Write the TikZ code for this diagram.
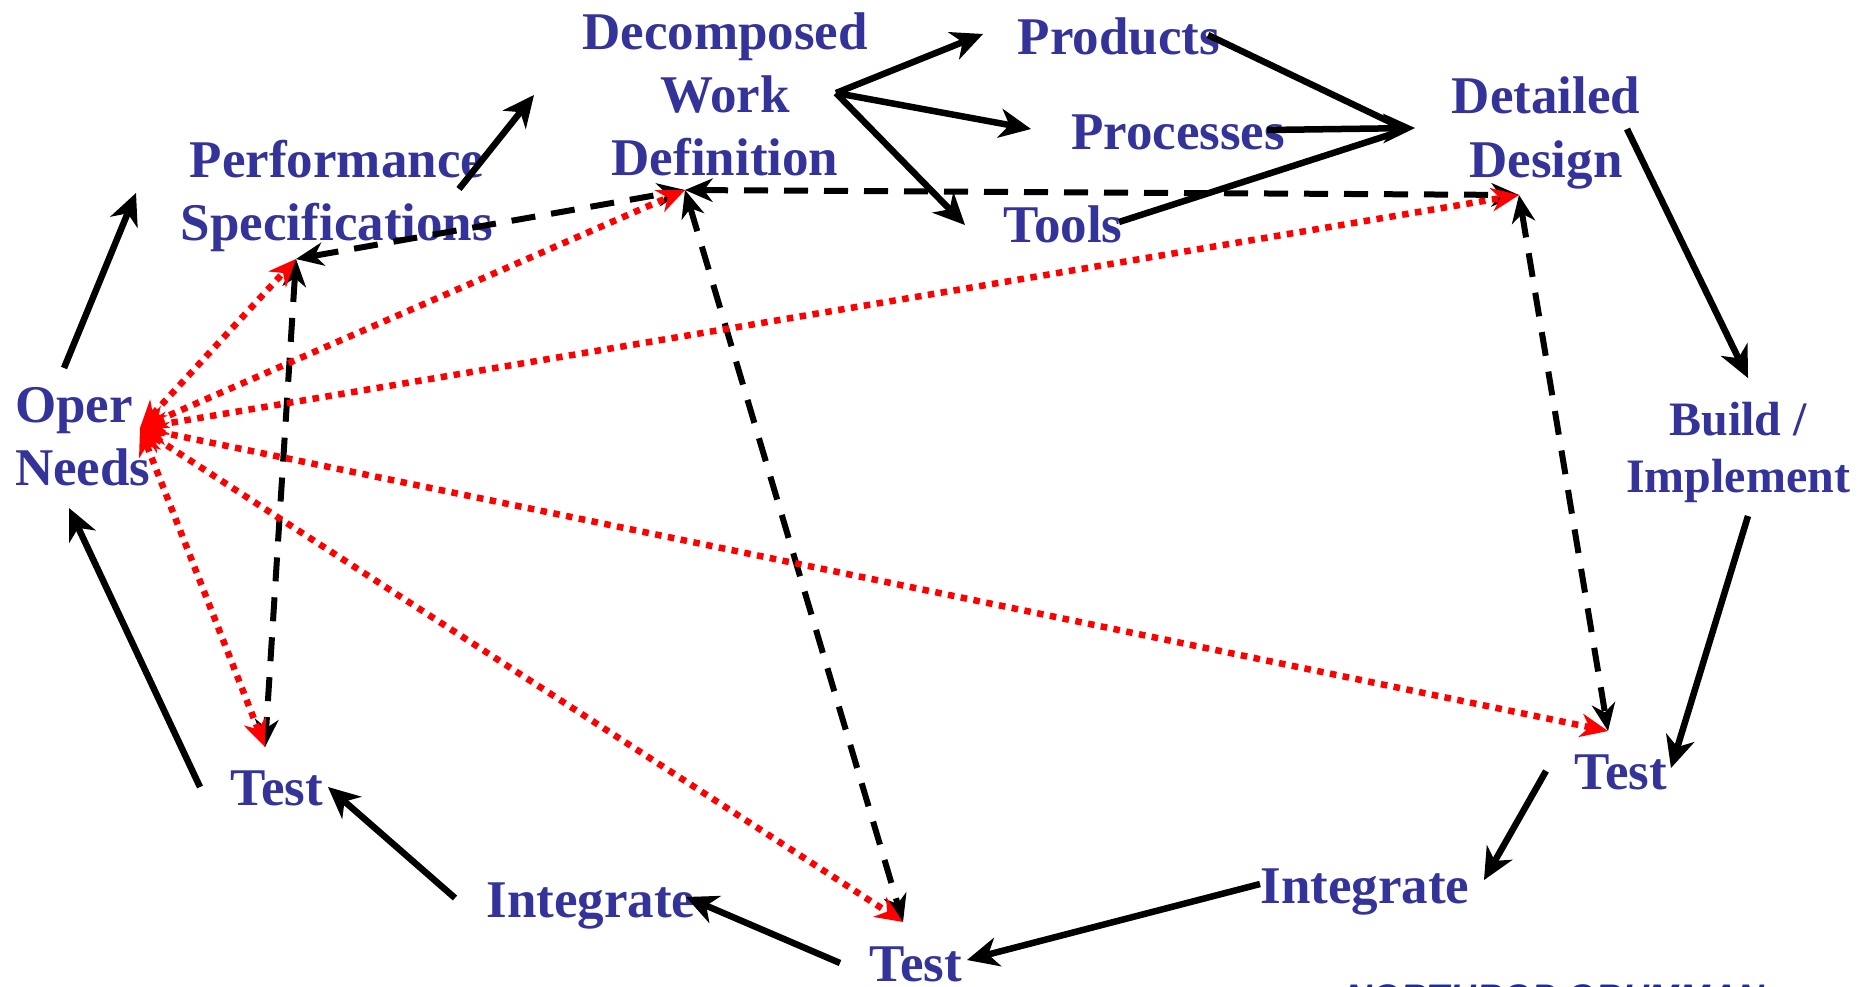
\documentclass[tikz,border=0pt]{standalone}
\usepackage{fontspec}
\setmainfont{Liberation Serif}
\newfontfamily\logofont{Liberation Sans}
\usetikzlibrary{arrows.meta}
\definecolor{labelblue}{RGB}{51,51,153}
\definecolor{logoblue}{RGB}{30,45,150}
\tikzset{
  lbl/.style={text=labelblue, inner sep=0pt, outer sep=0pt,
    font=\bfseries\fontsize{53}{63}\selectfont, align=center, anchor=base},
  bighead/.tip={Stealth[length=32pt,width=30pt,inset=10pt,line width=0pt]},
  smallhead/.tip={Stealth[length=28pt,width=24pt,inset=9pt,line width=0pt]},
  flow/.style={line width=6.5pt, -bighead},
  feed/.style={line width=6.5pt},
  link/.style={line width=6pt, dash pattern=on 24pt off 16pt, smallhead-smallhead},
  trace/.style={red, line width=6.5pt, dash pattern=on 6.5pt off 6.5pt, smallhead-smallhead},
}
\begin{document}
\begin{tikzpicture}[x=1pt,y=-1pt]
\useasboundingbox (0,0) rectangle (1873,986);
\clip (0,0) rectangle (1873,986);

% labels (multi-line nodes are placed by the baseline of their last line)
\node[lbl] (dwd) at (725,175) {Decomposed\\Work\\Definition};
\node[lbl] (prod) at (1119,54) {Products};
\node[lbl] (proc) at (1178,149) {Processes};
\node[lbl] (tools) at (1063,242) {Tools};
\node[lbl, font=\bfseries\fontsize{53}{64}\selectfont] (dd) at (1546,177) {Detailed\\Design};
\node[lbl] (ps) at (337,240) {Performance\\Specifications};
\node[lbl, align=left, anchor=base west] (on) at (15,485) {Oper\\Needs};
\node[lbl, font=\bfseries\fontsize{48}{57}\selectfont] (bi) at (1738,492) {Build /\\Implement};
\node[lbl] (testR) at (1621,789) {Test};
\node[lbl] (intR) at (1365,903) {Integrate};
\node[lbl] (testB) at (916,981) {Test};
\node[lbl] (intL) at (591,917) {Integrate};
\node[lbl] (testL) at (277,805) {Test};
\node[text=logoblue, inner sep=0pt, anchor=base west,
  font=\logofont\bfseries\itshape\fontsize{37}{40}\selectfont] (logo) at (1345,1010) {NORTHROP GRUMMAN};

% connector end points
\coordinate (on-out) at (64,368);   \coordinate (ps-in) at (136,193);
\coordinate (ps-out) at (459,189);  \coordinate (dwd-in) at (534,95);
\coordinate (fan) at (836,93);
\coordinate (prod-in) at (983,34);  \coordinate (proc-in) at (1031,129);
\coordinate (tools-in) at (965,225);
\coordinate (prod-out) at (1208,35); \coordinate (proc-out) at (1267,130);
\coordinate (tools-out) at (1119,222);
\coordinate (dd-in) at (1415,128);
\coordinate (dd-inA) at (1392,123); \coordinate (dd-inB) at (1392,134);
\coordinate (dd-out) at (1627,129); \coordinate (bi-in) at (1748,378);
\coordinate (bi-out) at (1748,516); \coordinate (testR-in) at (1671,768);
\coordinate (testR-out) at (1546,771); \coordinate (intR-in) at (1484,880);
\coordinate (intR-out) at (1260,884); \coordinate (testB-in) at (967,960);
\coordinate (testB-out) at (840,963); \coordinate (intL-in) at (686,897);
\coordinate (intL-out) at (455,898); \coordinate (testL-in) at (328,787);
\coordinate (testL-out) at (200,787); \coordinate (on-in) at (69,508);

% hubs for the dashed and dotted links
\coordinate (ps-hub) at (296,259);
\coordinate (dwd-hub) at (685,190);
\coordinate (dd-hub) at (1519,195);
\coordinate (testR-hub) at (1608,731);
\coordinate (testB-hub) at (903,922);
\coordinate (testL-hub) at (265,747);
\coordinate (on-hub) at (140,428);

% main cycle
\draw[flow] (on-out) -- (ps-in);
\draw[flow] (ps-out) -- (dwd-in);
\draw[flow] (fan) -- (prod-in);
\draw[flow] (fan) -- (proc-in);
\draw[flow] (fan) -- (tools-in);
\draw[feed] (prod-out) -- (dd-inA);
\draw[flow] (proc-out) -- (dd-in);
\draw[feed] (tools-out) -- (dd-inB);
\draw[flow] (dd-out) -- (bi-in);
\draw[flow] (bi-out) -- (testR-in);
\draw[flow] (testR-out) -- (intR-in);
\draw[flow] (intR-out) -- (testB-in);
\draw[flow] (testB-out) -- (intL-in);
\draw[flow] (intL-out) -- (testL-in);
\draw[flow] (testL-out) -- (on-in);

% level-to-level links
\draw[link] (ps-hub) -- (dwd-hub);
\draw[link] (dwd-hub) -- (dd-hub);
\draw[link] (dwd-hub) -- (testB-hub);
\draw[link] (dd-hub) -- (testR-hub);
\draw[link] (ps-hub) -- (testL-hub);

% traces back to the operational needs
\draw[trace] (on-hub) -- (ps-hub);
\draw[trace] (on-hub) -- (dwd-hub);
\draw[trace] (on-hub) -- (dd-hub);
\draw[trace] (on-hub) -- (testR-hub);
\draw[trace] (on-hub) -- (testB-hub);
\draw[trace] (on-hub) -- (testL-hub);
\end{tikzpicture}
\end{document}
